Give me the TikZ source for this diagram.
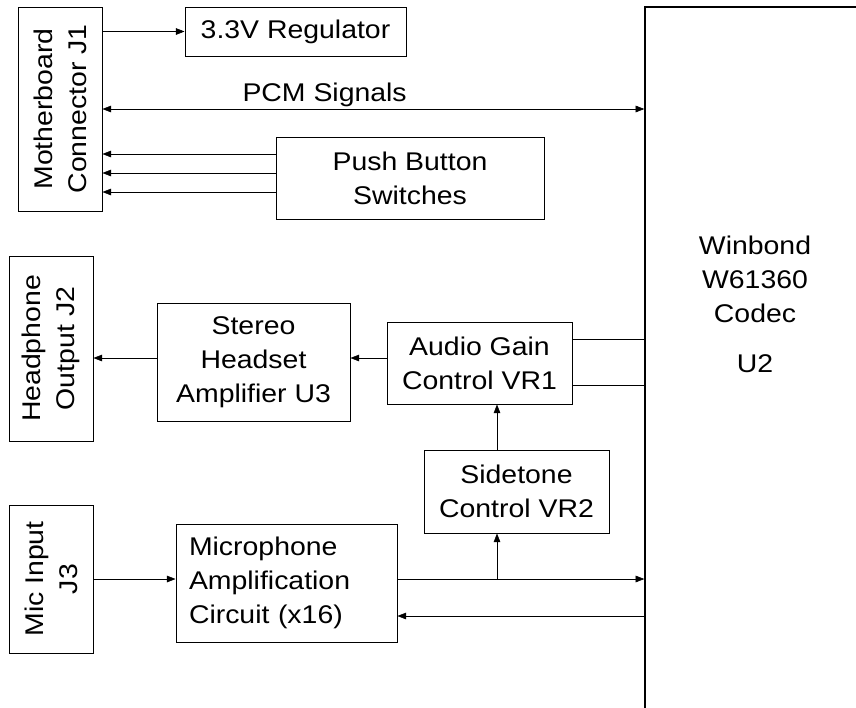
\documentclass[tikz,border=0pt]{standalone}
\usepackage{fontspec}
\setmainfont{Liberation Sans}[FakeStretch=1.11]
\usetikzlibrary{arrows.meta}
\def\px{0.75pt}
\begin{document}
\begin{tikzpicture}[x=0.75pt, y=-0.75pt, >={Triangle[length=6.5pt,width=5pt]},
  font=\fontsize{19.2pt}{25.5pt}\selectfont,
  blk/.style={draw, line width=0.75pt, align=center, inner sep=0pt},
  vblk/.style={blk, rotate=90}]
  \useasboundingbox (0,0) rectangle (856,707);
  \clip (0,0) rectangle (856,707);
  % rotated boxes: .south is the right hand side
  \node[vblk, minimum width=204*\px, minimum height=84*\px] (j1) at (60,109) {Motherboard\\Connector J1};
  \node[vblk, minimum width=185*\px, minimum height=84*\px] (j2) at (51,348.5) {Headphone\\Output J2};
  \node[vblk, minimum width=148*\px, minimum height=84*\px] (j3) at (51,579) {Mic Input\\J3};
  \node[blk, minimum width=221*\px, minimum height=49*\px] (reg) at (295.5,31.5) {3.3V Regulator};
  \node[blk, minimum width=268*\px, minimum height=82*\px] (pb) at (410,178) {Push Button\\Switches};
  \node[blk, minimum width=193*\px, minimum height=118*\px] (stereo) at (253.5,362) {Stereo\\Headset\\Amplifier U3};
  \node[blk, minimum width=185*\px, minimum height=82*\px] (audio) at (479.5,363) {Audio Gain\\Control VR1};
  \node[blk, minimum width=185*\px, minimum height=83*\px] (side) at (516.5,491.5) {Sidetone\\Control VR2};
  \node[blk, align=left, inner xsep=13*\px, text width=195*\px, minimum height=118*\px] (mic) at (286.5,583) {Microphone\\Amplification\\Circuit (x16)};
  % codec runs off the page
  \node[draw, line width=1.1pt, minimum width=255*\px, minimum height=723*\px] (codec) at (772.5,368.5) {};
  \node[align=center] (u2) at (755,304) {Winbond\\W61360\\Codec\\[12pt]U2};

  \draw[->] (reg.west -| j1.south) -- (reg.west);
  \draw[<->] (j1.south |- 0,109) -- (codec.west |- 0,109)
    node[pos=0.41, anchor=base, yshift=6pt] {PCM Signals};
  \foreach \y in {154,173,192}
    \draw[->] (pb.west |- 0,\y) -- (j1.south |- 0,\y);
  \draw[->] (audio.west |- 0,358) -- (stereo.east |- 0,358);
  \draw[->] (stereo.west |- 0,358) -- (j2.south |- 0,358);
  \foreach \y in {339,385}
    \draw (audio.east |- 0,\y) -- (codec.west |- 0,\y);
  \draw[->] (side.north -| 497,0) -- (audio.south -| 497,0);
  \draw[->] (j3.south |- 0,579) -- (mic.west |- 0,579);
  \draw[->] (mic.east |- 0,579) -- (codec.west |- 0,579);
  \coordinate (tap) at (497,579);
  \draw[->] (tap) -- (side.south -| tap);
  \draw[->] (codec.west |- 0,616) -- (mic.east |- 0,616);
\end{tikzpicture}
\end{document}
